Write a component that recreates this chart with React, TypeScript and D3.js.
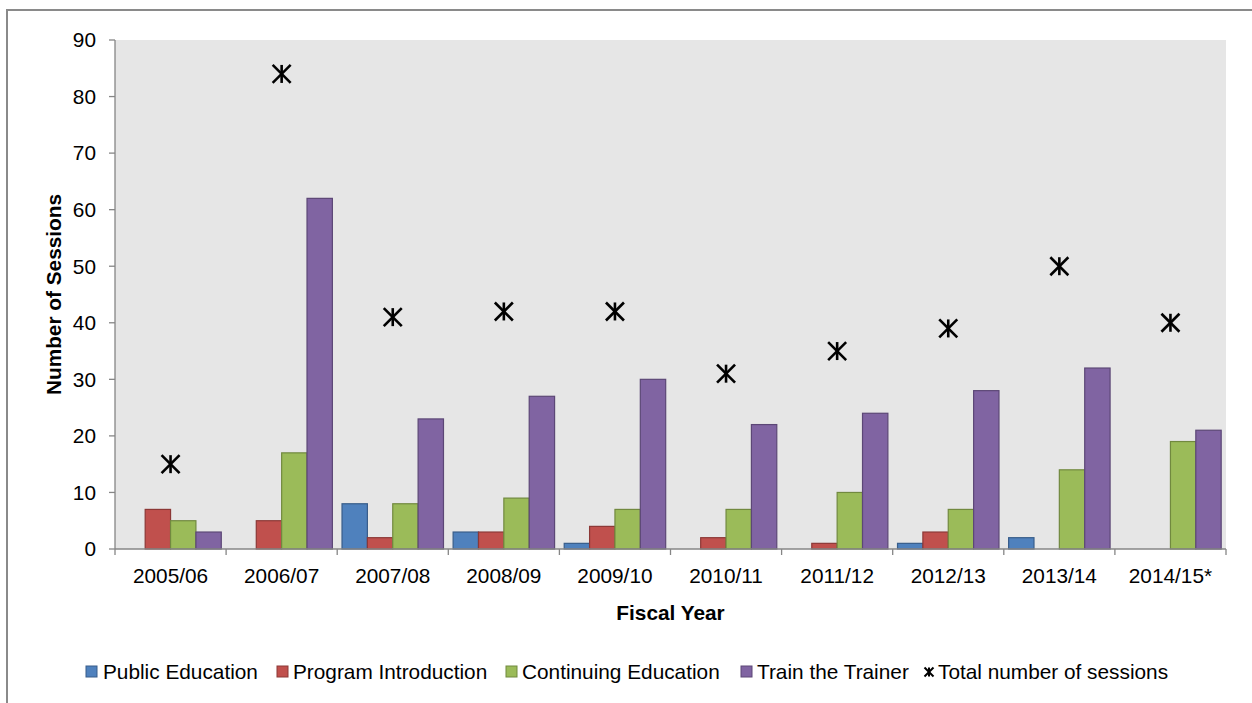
import React from "react";
import * as d3 from "d3";

const categories = ["2005/06", "2006/07", "2007/08", "2008/09", "2009/10", "2010/11", "2011/12", "2012/13", "2013/14", "2014/15*"];
const publicEducation = [0, 0, 8, 3, 1, 0, 0, 1, 2, 0];
const programIntroduction = [7, 5, 2, 3, 4, 2, 1, 3, 0, 0];
const continuingEducation = [5, 17, 8, 9, 7, 7, 10, 7, 14, 19];
const trainTheTrainer = [3, 62, 23, 27, 30, 22, 24, 28, 32, 21];
const totalSessions = [15, 84, 41, 42, 42, 31, 35, 39, 50, 40];
const seriesNames = ["Public Education", "Program Introduction", "Continuing Education", "Train the Trainer"];
const totalName = "Total number of sessions";
const yTicks = [0, 10, 20, 30, 40, 50, 60, 70, 80, 90];

const fills = ["#4F81BD", "#C0504D", "#9BBB59", "#8064A2"];
const strokes = ["#385D8A", "#8C3836", "#71893F", "#5C4776"];

const W = 1252, H = 703;
const plot = { left: 115, right: 1226, top: 40, bottom: 549 };
const font = "Arial, 'Liberation Sans', sans-serif";
const FS = 20.8;

function Star({ x, y, s, w }: { x: number; y: number; s: number; w: number }) {
  return (
    <g stroke="#000" strokeWidth={w}>
      <line x1={x - s} y1={y - s} x2={x + s} y2={y + s} />
      <line x1={x - s} y1={y + s} x2={x + s} y2={y - s} />
      <line x1={x} y1={y - s} x2={x} y2={y + s} />
    </g>
  );
}

export default function App() {
  const series = [publicEducation, programIntroduction, continuingEducation, trainTheTrainer];
  const x = d3.scaleBand<string>().domain(categories).range([plot.left, plot.right]).paddingInner(0).paddingOuter(0);
  const y = d3.scaleLinear().domain([0, 90]).range([plot.bottom, plot.top]);
  const bw = x.bandwidth();
  const inner = d3.scaleBand<number>().domain([0, 1, 2, 3]).range([0, bw]).paddingInner(0).paddingOuter(0.19);
  const boundaries = d3.range(categories.length + 1).map((i) => plot.left + i * bw);

  const legendItems = [
    { i: 0, sx: 86, tx: 103 },
    { i: 1, sx: 277, tx: 293 },
    { i: 2, sx: 506, tx: 522 },
    { i: 3, sx: 741, tx: 757 },
  ];
  const ly = 672;

  return (
    <div style={{ position: "absolute", left: 0, top: 0 }}>
      <svg width={W} height={H} style={{ display: "block", fontFamily: font }}>
        <rect x={0} y={0} width={W} height={H} fill="#fff" />
        <rect x={7} y={10} width={W + 20} height={H + 20} fill="none" stroke="#8a8a8a" strokeWidth={2} />
        <rect x={plot.left} y={plot.top} width={plot.right - plot.left} height={plot.bottom - plot.top} fill="#E6E6E6" />
        {series.map((vals, si) =>
          vals.map((v, ci) =>
            v > 0 ? (
              <rect
                key={`${si}-${ci}`}
                x={(x(categories[ci]) as number) + (inner(si) as number)}
                y={y(v)}
                width={inner.bandwidth()}
                height={y(0) - y(v)}
                fill={fills[si]}
                stroke={strokes[si]}
                strokeWidth={1.2}
              />
            ) : null
          )
        )}
        {totalSessions.map((v, ci) => (
          <Star key={ci} x={(x(categories[ci]) as number) + bw / 2} y={y(v)} s={9} w={2.6} />
        ))}
        <line x1={plot.left} y1={plot.top} x2={plot.left} y2={plot.bottom} stroke="#868686" strokeWidth={1.3} />
        <line x1={plot.left} y1={plot.bottom} x2={plot.right} y2={plot.bottom} stroke="#868686" strokeWidth={1.3} />
        {yTicks.map((t) => (
          <g key={t}>
            <line x1={plot.left - 6} x2={plot.left} y1={y(t)} y2={y(t)} stroke="#868686" strokeWidth={1.3} />
            <text x={96} y={y(t)} dy="0.35em" textAnchor="end" fontSize={FS} fill="#000">
              {t}
            </text>
          </g>
        ))}
        {boundaries.map((b, i) => (
          <line key={i} x1={b} x2={b} y1={plot.bottom} y2={plot.bottom + 6} stroke="#868686" strokeWidth={1.3} />
        ))}
        {categories.map((c) => (
          <text key={c} x={(x(c) as number) + bw / 2} y={583} textAnchor="middle" fontSize={FS} fill="#000">
            {c}
          </text>
        ))}
        <text x={(plot.left + plot.right) / 2} y={620} textAnchor="middle" fontSize={FS} fontWeight="bold" fill="#000">
          Fiscal Year
        </text>
        <text
          transform={`translate(61, ${(plot.top + plot.bottom) / 2}) rotate(-90)`}
          textAnchor="middle"
          fontSize={FS}
          fontWeight="bold"
          fill="#000"
        >
          Number of Sessions
        </text>
        {legendItems.map((it) => (
          <g key={it.i}>
            <rect x={it.sx} y={ly - 6} width={11} height={11} fill={fills[it.i]} stroke={strokes[it.i]} strokeWidth={1} />
            <text x={it.tx} y={ly} dy="0.35em" fontSize={FS} fill="#000">
              {seriesNames[it.i]}
            </text>
          </g>
        ))}
        <Star x={929} y={ly} s={4.5} w={2} />
        <text x={938} y={ly} dy="0.35em" fontSize={FS} fill="#000">
          {totalName}
        </text>
      </svg>
    </div>
  );
}
